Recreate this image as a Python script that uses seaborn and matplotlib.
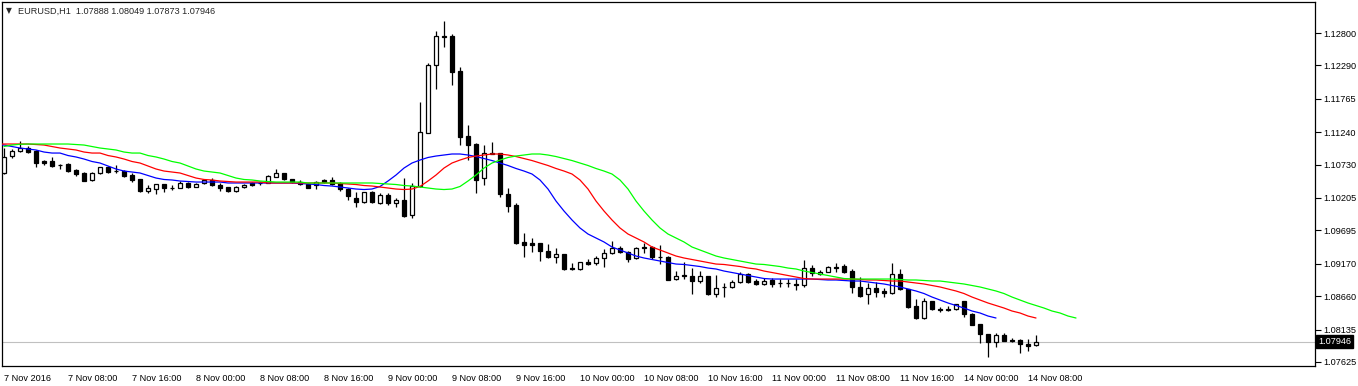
import numpy as np
import pandas as pd
import matplotlib
matplotlib.use("Agg")
import matplotlib.pyplot as plt
import matplotlib.transforms as mtransforms
import seaborn as sns

symbol = "EURUSD,H1"

# hourly candles, 7 Nov 2016 00:00 .. 14 Nov 2016 09:00 (weekend skipped)
opens = [
    1.10598, 1.10865, 1.10944, 1.10991, 1.10944, 1.10787, 1.10787, 1.10731, 1.10739, 1.10645,
    1.10598, 1.10488, 1.10598, 1.10692, 1.10629, 1.10629, 1.10566, 1.10503, 1.10315, 1.10346,
    1.10425, 1.10362, 1.10362, 1.10441, 1.10378, 1.10441, 1.10488, 1.10409, 1.10378, 1.10315,
    1.10378, 1.10441, 1.10441, 1.10441, 1.10535, 1.10598, 1.10503, 1.10456, 1.10425, 1.10409,
    1.10488, 1.10488, 1.10441, 1.10346, 1.10205, 1.10142, 1.10299, 1.10126, 1.10252, 1.10126,
    1.10173, 1.09937, 1.10393, 1.11227, 1.12297, 1.12753, 1.12753, 1.12202, 1.11180, 1.11054,
    1.10519, 1.10912, 1.10912, 1.10268, 1.10094, 1.09513, 1.09497, 1.09497, 1.09371, 1.09277,
    1.09324, 1.09096, 1.09088, 1.09198, 1.09182, 1.09261, 1.09339, 1.09418, 1.09355, 1.09261,
    1.09434, 1.09434, 1.09284, 1.09277, 1.08930, 1.08993, 1.08978, 1.08899, 1.08978, 1.08694,
    1.08805, 1.08805, 1.08883, 1.09009, 1.08899, 1.08852, 1.08915, 1.08868, 1.08868, 1.08852,
    1.08836, 1.09103, 1.09009, 1.09041, 1.09119, 1.09135, 1.09056, 1.08805, 1.08694, 1.08789,
    1.08742, 1.08710, 1.09009, 1.08773, 1.08506, 1.08317, 1.08584, 1.08458, 1.08458, 1.08458,
    1.08584, 1.08380, 1.08223, 1.08065, 1.07940, 1.08050, 1.07971, 1.07971, 1.07908, 1.07888,
]
highs = [
    1.10991, 1.10975, 1.11101, 1.11023, 1.10960, 1.10802, 1.10850, 1.10739, 1.10755, 1.10661,
    1.10614, 1.10614, 1.10700, 1.10708, 1.10724, 1.10645, 1.10598, 1.10503, 1.10409, 1.10425,
    1.10425, 1.10409, 1.10472, 1.10456, 1.10441, 1.10503, 1.10519, 1.10441, 1.10378, 1.10393,
    1.10425, 1.10449, 1.10456, 1.10566, 1.10661, 1.10598, 1.10503, 1.10488, 1.10441, 1.10472,
    1.10503, 1.10535, 1.10456, 1.10362, 1.10299, 1.10299, 1.10315, 1.10283, 1.10283, 1.10205,
    1.10519, 1.10441, 1.11715, 1.12328, 1.12831, 1.12989, 1.12784, 1.12265, 1.11353, 1.11070,
    1.11038, 1.11085, 1.10912, 1.10362, 1.10126, 1.09654, 1.09575, 1.09497, 1.09481, 1.09418,
    1.09324, 1.09182, 1.09198, 1.09245, 1.09292, 1.09403, 1.09528, 1.09450, 1.09371, 1.09434,
    1.09497, 1.09450, 1.09465, 1.09292, 1.09056, 1.09198, 1.09103, 1.09056, 1.08978, 1.08993,
    1.08868, 1.08915, 1.09041, 1.09025, 1.08930, 1.08946, 1.08946, 1.08930, 1.08930, 1.08930,
    1.09229, 1.09151, 1.09072, 1.09135, 1.09182, 1.09166, 1.09088, 1.08962, 1.08868, 1.08883,
    1.08789, 1.09182, 1.09088, 1.08781, 1.08616, 1.08632, 1.08592, 1.08490, 1.08506, 1.08537,
    1.08592, 1.08388, 1.08230, 1.08073, 1.08081, 1.08081, 1.08002, 1.07987, 1.07987, 1.08049,
]
lows = [
    1.10582, 1.10834, 1.10928, 1.10912, 1.10692, 1.10724, 1.10700, 1.10661, 1.10614, 1.10551,
    1.10465, 1.10472, 1.10590, 1.10598, 1.10598, 1.10535, 1.10456, 1.10299, 1.10283, 1.10268,
    1.10299, 1.10330, 1.10362, 1.10362, 1.10378, 1.10425, 1.10393, 1.10315, 1.10299, 1.10299,
    1.10362, 1.10393, 1.10409, 1.10441, 1.10535, 1.10488, 1.10441, 1.10409, 1.10362, 1.10346,
    1.10441, 1.10409, 1.10315, 1.10173, 1.10063, 1.10126, 1.10126, 1.10110, 1.10094, 1.10063,
    1.09906, 1.09890, 1.10378, 1.11227, 1.11919, 1.12580, 1.11982, 1.11038, 1.10802, 1.10283,
    1.10409, 1.10897, 1.10220, 1.09984, 1.09481, 1.09277, 1.09355, 1.09214, 1.09261, 1.09182,
    1.09080, 1.09072, 1.09080, 1.09151, 1.09151, 1.09119, 1.09324, 1.09339, 1.09198, 1.09245,
    1.09339, 1.09245, 1.09166, 1.08907, 1.08915, 1.08930, 1.08694, 1.08868, 1.08686, 1.08647,
    1.08647, 1.08789, 1.08868, 1.08868, 1.08836, 1.08836, 1.08805, 1.08805, 1.08805, 1.08757,
    1.08805, 1.08978, 1.08993, 1.09033, 1.09041, 1.09025, 1.08710, 1.08655, 1.08537, 1.08647,
    1.08647, 1.08702, 1.08765, 1.08482, 1.08301, 1.08309, 1.08450, 1.08411, 1.08427, 1.08450,
    1.08333, 1.08200, 1.07924, 1.07704, 1.07861, 1.07948, 1.07940, 1.07766, 1.07798, 1.07873,
]
closes = [
    1.10850, 1.10944, 1.10991, 1.10928, 1.10755, 1.10763, 1.10708, 1.10724, 1.10629, 1.10582,
    1.10472, 1.10598, 1.10692, 1.10614, 1.10625, 1.10551, 1.10488, 1.10315, 1.10362, 1.10425,
    1.10362, 1.10357, 1.10441, 1.10378, 1.10425, 1.10488, 1.10409, 1.10362, 1.10315, 1.10378,
    1.10409, 1.10409, 1.10446, 1.10551, 1.10598, 1.10503, 1.10456, 1.10425, 1.10362, 1.10456,
    1.10456, 1.10425, 1.10346, 1.10236, 1.10142, 1.10299, 1.10142, 1.10252, 1.10126, 1.10173,
    1.09921, 1.10393, 1.11243, 1.12297, 1.12753, 1.12745, 1.12187, 1.11164, 1.11038, 1.10488,
    1.10912, 1.10904, 1.10268, 1.10079, 1.09497, 1.09465, 1.09465, 1.09371, 1.09277, 1.09324,
    1.09088, 1.09088, 1.09198, 1.09166, 1.09261, 1.09339, 1.09418, 1.09355, 1.09245, 1.09418,
    1.09426, 1.09277, 1.09277, 1.08915, 1.08978, 1.08985, 1.08899, 1.08978, 1.08694, 1.08789,
    1.08797, 1.08883, 1.09009, 1.08883, 1.08852, 1.08899, 1.08852, 1.08860, 1.08860, 1.08844,
    1.09103, 1.09025, 1.09041, 1.09119, 1.09111, 1.09041, 1.08805, 1.08663, 1.08789, 1.08726,
    1.08718, 1.09009, 1.08773, 1.08490, 1.08317, 1.08584, 1.08458, 1.08450, 1.08450, 1.08537,
    1.08380, 1.08207, 1.08065, 1.07940, 1.08050, 1.07955, 1.07963, 1.07908, 1.07877, 1.07946,
]

# moving average values, first value belongs to bar -5
ma_start = -5
ma_vals = [
    1.11015, 1.11038, 1.11050, 1.11054, 1.11054,
    1.11054, 1.11054, 1.11054, 1.11054, 1.11046, 1.11038, 1.11015, 1.10991, 1.10975, 1.10960,
    1.10928, 1.10912, 1.10912, 1.10873, 1.10850, 1.10818, 1.10779, 1.10755, 1.10708, 1.10661,
    1.10629, 1.10614, 1.10598, 1.10559, 1.10519, 1.10496, 1.10488, 1.10472, 1.10464, 1.10456,
    1.10456, 1.10456, 1.10456, 1.10441, 1.10441, 1.10441, 1.10441, 1.10441, 1.10441, 1.10441,
    1.10441, 1.10441, 1.10433, 1.10425, 1.10417, 1.10401, 1.10393, 1.10378, 1.10362, 1.10346,
    1.10338, 1.10346, 1.10386, 1.10472, 1.10566, 1.10676, 1.10755, 1.10802, 1.10842, 1.10865,
    1.10881, 1.10897, 1.10897, 1.10881, 1.10857, 1.10826, 1.10794, 1.10755, 1.10716, 1.10669,
    1.10629, 1.10582, 1.10488, 1.10346, 1.10157, 1.10000, 1.09859, 1.09733, 1.09638, 1.09575,
    1.09513, 1.09434, 1.09387, 1.09339, 1.09292, 1.09261, 1.09237, 1.09214, 1.09190, 1.09166,
    1.09159, 1.09143, 1.09127, 1.09103, 1.09088, 1.09056, 1.09033, 1.09009, 1.08985, 1.08962,
    1.08938, 1.08930, 1.08930, 1.08930, 1.08930, 1.08930, 1.08930, 1.08922, 1.08915, 1.08915,
    1.08907, 1.08899, 1.08899, 1.08883, 1.08868, 1.08852, 1.08828, 1.08805, 1.08773, 1.08742,
    1.08702, 1.08647, 1.08600, 1.08553, 1.08514, 1.08474, 1.08427, 1.08396, 1.08348, 1.08317,
]
ma_shifts = {"blue": -5, "red": 0, "lime": 5}

tick_bars = [0, 8, 16, 24, 32, 40, 48, 56, 64, 72, 80, 88, 96, 104, 112, 120, 128]
tick_labels = ["7 Nov 2016", "7 Nov 08:00", "7 Nov 16:00", "8 Nov 00:00", "8 Nov 08:00",
               "8 Nov 16:00", "9 Nov 00:00", "9 Nov 08:00", "9 Nov 16:00", "10 Nov 00:00",
               "10 Nov 08:00", "10 Nov 16:00", "11 Nov 00:00", "11 Nov 08:00", "11 Nov 16:00",
               "14 Nov 00:00", "14 Nov 08:00"]
price_ticks = [1.12800, 1.12290, 1.11765, 1.11240, 1.10730, 1.10205,
               1.09695, 1.09170, 1.08660, 1.08135, 1.07625]

sns.set_style("white")
plt.rcParams['font.family'] = ['Liberation Sans', 'DejaVu Sans']

W, H = 1358, 386
fig = plt.figure(figsize=(W / 100, H / 100), dpi=100)
ax = fig.add_axes([2 / W, 20 / H, 1313 / W, 364 / H])

o = np.array(opens)
c = np.array(closes)
x = np.arange(len(o))

# current price line
ax.axhline(closes[-1], color="#c0c0c0", lw=0.8, zorder=1)

# candles
ax.vlines(x, lows, highs, color="black", lw=0.9, zorder=2)
body_lo = np.minimum(o, c)
body_h = np.maximum(np.abs(c - o), 1e-7)
fills = np.where(c >= o, "white", "black")
ax.bar(x, body_h, bottom=body_lo, width=0.5, color=fills,
       edgecolor="black", linewidth=0.9, zorder=3)

# the three shifted averages
ma_x = np.arange(ma_start, ma_start + len(ma_vals))
frames = []
for col, sh in ma_shifts.items():
    frames.append(pd.DataFrame({"bar": ma_x + sh, "price": ma_vals, "line": col}))
df = pd.concat(frames, ignore_index=True)
sns.lineplot(data=df, x="bar", y="price", hue="line",
             palette={"blue": "#0000ff", "red": "#ff0000", "lime": "#00ff00"},
             linewidth=0.9, legend=False, sort=False, ax=ax, zorder=4)

ax.set_xlim(-0.25, 163.875)
ax.set_ylim(1.07562, 1.13288)
ax.set_xlabel("")
ax.set_ylabel("")

for s in ax.spines.values():
    s.set_color("black")
    s.set_linewidth(0.9)

ax.yaxis.tick_right()
ax.set_yticks(price_ticks)
ax.set_yticklabels([f"{v:.5f}" for v in price_ticks])
ax.set_xticks(tick_bars)
ax.set_xticklabels(tick_labels)
ax.tick_params(axis="both", direction="out", length=4, width=0.8,
               labelsize=6.6, colors="black", pad=2)
ax.tick_params(axis="y", pad=2)
shift = mtransforms.ScaledTranslation(-0.5 / 100, 0, fig.dpi_scale_trans)
for lab in ax.get_xticklabels():
    lab.set_ha("left")
    lab.set_transform(lab.get_transform() + shift)

# last price marker on the scale
trans = mtransforms.blended_transform_factory(ax.transAxes, ax.transData)
ax.text(1 + 3 / 1313, closes[-1], f"{closes[-1]:.5f}", transform=trans,
        ha="left", va="center", color="white", fontsize=6.6, zorder=6,
        bbox=dict(facecolor="black", edgecolor="black", boxstyle="square,pad=0.2"))

# chart header
fig.text(6 / W, 1 - 11 / H, "\u25bc", fontsize=5.5, va="center", ha="left",
         family=["DejaVu Sans"])
fig.text(18 / W, 1 - 11 / H, f"{symbol}  " + " ".join(f"{v:.5f}" for v in
         [opens[-1], highs[-1], lows[-1], closes[-1]]),
         fontsize=6.6, va="center", ha="left")

fig.savefig("out.png", dpi=100, facecolor="white")
